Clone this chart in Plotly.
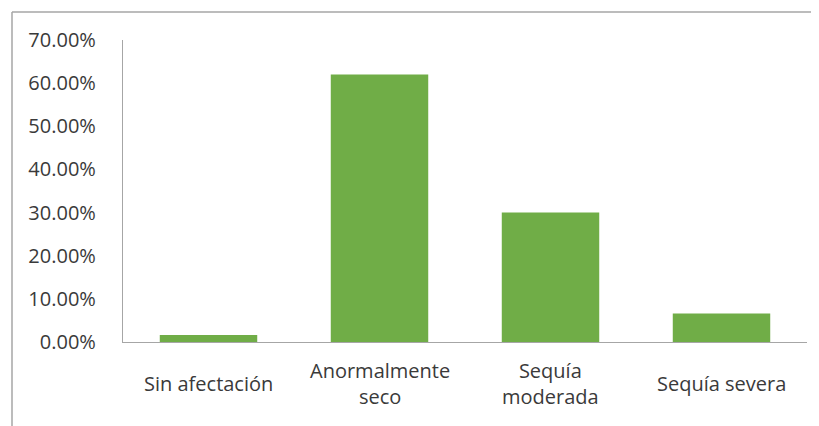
import plotly.graph_objects as go

categories = ["Sin afectación", "Anormalmente seco", "Sequía moderada", "Sequía severa"]
category_labels = ["Sin afectación", "Anormalmente<br>seco", "Sequía<br>moderada", "Sequía severa"]
values = [0.016, 0.620, 0.300, 0.066]
tick_values = [0, 0.1, 0.2, 0.3, 0.4, 0.5, 0.6, 0.7]
tick_labels = ["0.00%", "10.00%", "20.00%", "30.00%", "40.00%", "50.00%", "60.00%", "70.00%"]

FONT = "Open Sans"
TXT = "#3a3a3a"
OFF = 8  # page body margin
W, H = 819 - OFF, 426 - OFF
ML, MR, MT, MB = 123 - OFF, 12, 40 - OFF, 426 - 342

fig = go.Figure(go.Bar(x=categories, y=values, marker=dict(color="#70AD47", line=dict(width=0)),
                       width=0.57))

pw = W - ML - MR
ph = H - MT - MB

annotations = [
    dict(x=c, y=-(383 - 342) / ph, xref="x", yref="paper", text=lab, showarrow=False,
         yanchor="middle", xanchor="center", font=dict(family=FONT, size=20, color=TXT))
    for c, lab in zip(categories, category_labels)
]

bx0 = (12 - OFF - ML) / pw
by0 = 1 + (MT - (12 - OFF)) / ph
shapes = [
    dict(type="line", xref="paper", yref="paper", x0=bx0, x1=1 + MR / pw + 0.02, y0=by0, y1=by0,
         line=dict(color="#A6A6A6", width=1.5)),
    dict(type="line", xref="paper", yref="paper", x0=bx0, x1=bx0, y0=by0, y1=-MB / ph - 0.02,
         line=dict(color="#A6A6A6", width=1.5)),
]

fig.update_layout(
    width=W, height=H,
    margin=dict(l=ML, r=MR, t=MT, b=MB),
    plot_bgcolor="white", paper_bgcolor="white",
    showlegend=False,
    font=dict(family=FONT, size=20, color=TXT),
    annotations=annotations,
    shapes=shapes,
    xaxis=dict(showticklabels=False, showline=True, linecolor="#A6A6A6", linewidth=1.2,
               showgrid=False, ticks="", range=[-0.5, 3.5]),
    yaxis=dict(range=[0, 0.7], tickvals=tick_values, ticktext=tick_labels, showgrid=False,
               showline=True, linecolor="#A6A6A6", linewidth=1.2, ticks="",
               ticklabelstandoff=22, tickfont=dict(family=FONT, size=20, color=TXT), zeroline=False),
)

fig.write_html("out.html")
